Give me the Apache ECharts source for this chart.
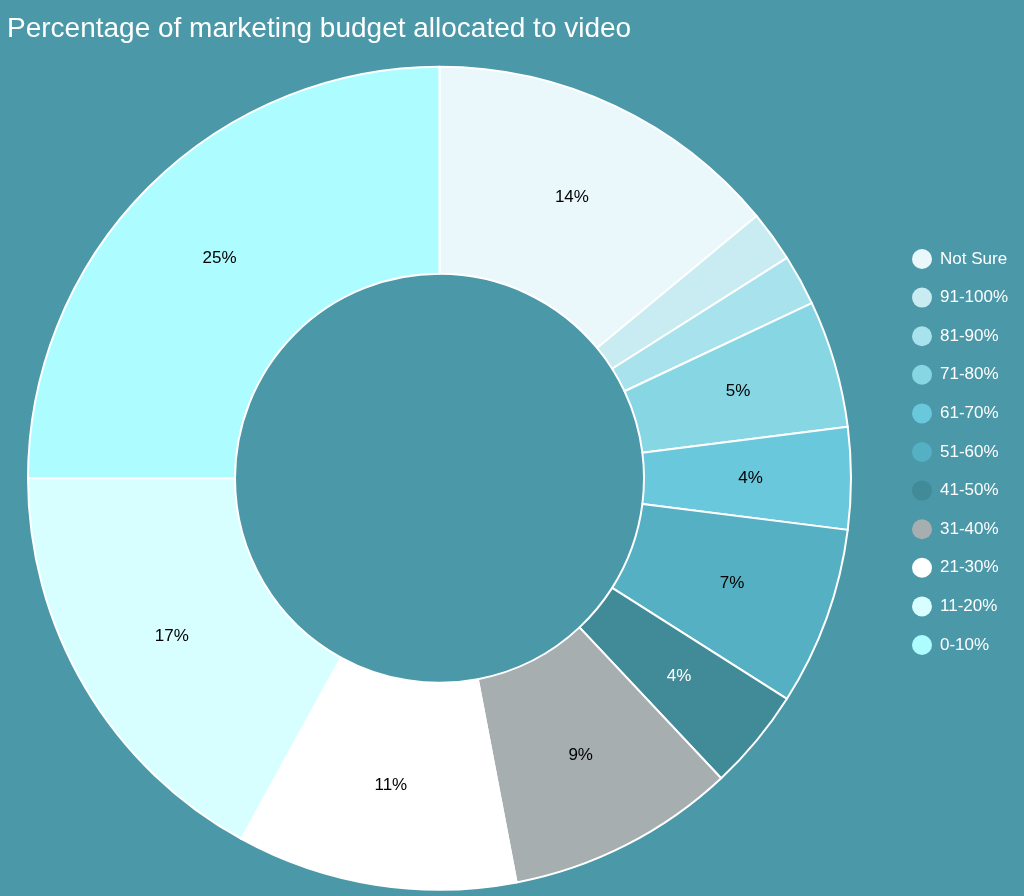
<!DOCTYPE html>
<html>
<head>
<meta charset="utf-8">
<script src="https://cdn.jsdelivr.net/npm/echarts@6/dist/echarts.min.js"></script>
<style>
html,body{margin:0;padding:0;background:#4A98A8;}
#chart{width:1024px;height:896px;}
</style>
</head>
<body>
<div id="chart"></div>
<script>
const categories = ['Not Sure','91-100%','81-90%','71-80%','61-70%','51-60%','41-50%','31-40%','21-30%','11-20%','0-10%'];
const values = [14, 2, 2, 5, 4, 7, 4, 9, 11, 17, 25];
const colors = ['#EAF8FC','#C8ECF2','#A8E2EC','#86D6E4','#69C8DC','#55B0C4','#418A98','#A7AEB0','#FFFFFF','#D8FFFF','#ADFCFF'];
const labelColors = ['#000','#000','#000','#000','#000','#000','#FFFFFF','#000','#000','#000','#000'];

const chart = echarts.init(document.getElementById('chart'));
chart.setOption({
  backgroundColor: '#4A98A8',
  animation: false,
  title: {
    text: 'Percentage of marketing budget allocated to video',
    left: 2,
    top: 10,
    textStyle: { color: '#FFFFFF', fontSize: 28, fontWeight: 'normal', fontFamily: 'Liberation Sans, Arial, sans-serif' }
  },
  legend: {
    orient: 'vertical',
    left: 907,
    top: 244,
    icon: 'circle',
    itemWidth: 20,
    itemHeight: 20,
    itemGap: 18.6,
    itemStyle: { borderWidth: 0 },
    textStyle: { color: '#FFFFFF', fontSize: 17, lineHeight: 20, fontFamily: 'Liberation Sans, Arial, sans-serif', padding: [0,0,0,3] },
    data: categories
  },
  series: [{
    type: 'pie',
    center: [439.5, 478.3],
    radius: [204.5, 411.5],
    startAngle: 90,
    clockwise: true,
    minShowLabelAngle: 10,
    itemStyle: { borderColor: '#FFFFFF', borderWidth: 2 },
    label: {
      show: true,
      position: 'inside',
      formatter: '{c}%',
      fontSize: 17,
      fontFamily: 'Liberation Sans, Arial, sans-serif'
    },
    labelLine: { show: false },
    emphasis: { disabled: true },
    data: categories.map((c, i) => ({
      name: c,
      value: values[i],
      itemStyle: { color: colors[i] },
      label: { color: labelColors[i] }
    }))
  }]
});
</script>
</body>
</html>
